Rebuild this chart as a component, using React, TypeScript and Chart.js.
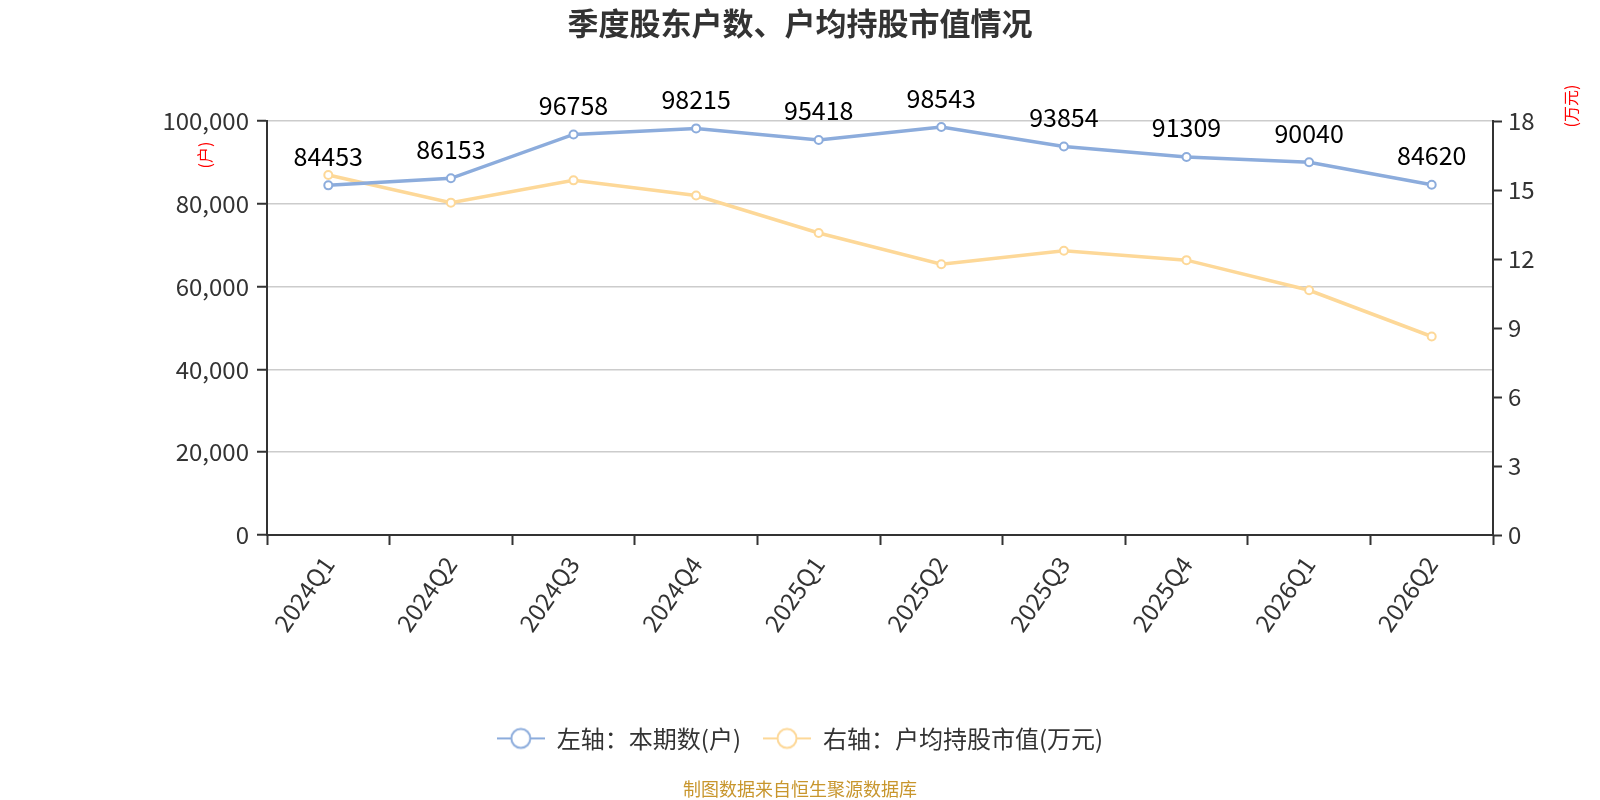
import { useEffect, useRef } from 'react';
import Chart from 'chart.js/auto';

const FONT = '"Noto Sans CJK SC", "Noto Sans", sans-serif';

// quarter labels and the two series
const quarters = [
  '2024Q1', '2024Q2', '2024Q3', '2024Q4',
  '2025Q1', '2025Q2', '2025Q3', '2025Q4',
  '2026Q1', '2026Q2',
];
const holderCounts = [84453, 86153, 96758, 98215, 95418, 98543, 93854, 91309, 90040, 84620];
const avgHoldingValue = [15.65, 14.45, 15.42, 14.76, 13.13, 11.77, 12.36, 11.95, 10.64, 8.63];

// axis ranges
const leftMax = 100000;
const leftStep = 20000;
const rightMax = 18;
const rightStep = 3;

const BLUE = '#8cacdc';
const YELLOW = '#fdd898';

function legendMarker(color: string) {
  const c = document.createElement('canvas');
  c.width = 48;
  c.height = 24;
  const g = c.getContext('2d');
  if (g) {
    g.strokeStyle = color;
    g.lineWidth = 2;
    g.beginPath();
    g.moveTo(0, 12);
    g.lineTo(48, 12);
    g.stroke();
    g.beginPath();
    g.arc(24, 12, 9.5, 0, Math.PI * 2);
    g.fillStyle = '#fff';
    g.fill();
    g.stroke();
  }
  return c;
}

// numbers above the blue line
const valueLabels = {
  id: 'valueLabels',
  afterDatasetsDraw(chart: Chart) {
    const { ctx } = chart;
    const meta = chart.getDatasetMeta(0);
    ctx.save();
    ctx.font = `25px ${FONT}`;
    ctx.fillStyle = '#000';
    ctx.textAlign = 'center';
    ctx.textBaseline = 'middle';
    meta.data.forEach((pt, i) => {
      ctx.fillText(String(holderCounts[i]), pt.x, pt.y - 29);
    });
    ctx.restore();
  },
};

// small red unit captions beside the axes
const unitLabels = {
  id: 'unitLabels',
  afterDraw(chart: Chart) {
    const { ctx, chartArea } = chart;
    const draw = (text: string, x: number, y: number) => {
      ctx.save();
      ctx.translate(x, y);
      ctx.rotate(-Math.PI / 2);
      ctx.font = `16px ${FONT}`;
      ctx.fillStyle = '#ff0000';
      ctx.textAlign = 'center';
      ctx.textBaseline = 'middle';
      ctx.fillText(text, 0, 0);
      ctx.restore();
    };
    draw('(户)', chartArea.left - 62, chartArea.top + 34);
    draw('(万元)', chartArea.right + 78, chartArea.top - 15);
  },
};

export default function App() {
  const chartRef = useRef<HTMLCanvasElement>(null);
  const chartInstance = useRef<Chart | null>(null);

  useEffect(() => {
    document.body.style.margin = '0';
    if (!chartRef.current) return;
    if (chartInstance.current) {
      chartInstance.current.destroy();
    }
    const ctx = chartRef.current.getContext('2d');
    if (!ctx) return;

    const markers = [legendMarker(BLUE), legendMarker(YELLOW)];

    chartInstance.current = new Chart(ctx, {
      type: 'line',
      data: {
        labels: quarters,
        datasets: [
          {
            label: '左轴：本期数(户)',
            data: holderCounts,
            yAxisID: 'y',
            borderColor: BLUE,
            borderWidth: 3.5,
            pointRadius: 4,
            pointBorderWidth: 2,
            pointBackgroundColor: '#fff',
            pointBorderColor: BLUE,
            tension: 0,
          },
          {
            label: '右轴：户均持股市值(万元)',
            data: avgHoldingValue,
            yAxisID: 'y1',
            borderColor: YELLOW,
            borderWidth: 3.5,
            pointRadius: 4,
            pointBorderWidth: 2,
            pointBackgroundColor: '#fff',
            pointBorderColor: YELLOW,
            tension: 0,
          },
        ],
      },
      options: {
        responsive: true,
        maintainAspectRatio: false,
        animation: false,
        layout: { padding: 0 },
        plugins: {
          title: {
            display: true,
            text: '季度股东户数、户均持股市值情况',
            color: '#333',
            font: { family: FONT, size: 31, weight: 'bold' },
            padding: { top: 5, bottom: 78.8 },
          },
          subtitle: {
            display: true,
            position: 'bottom',
            text: '制图数据来自恒生聚源数据库',
            color: '#c8962d',
            font: { family: FONT, size: 18 },
            padding: { top: 18, bottom: 0 },
          },
          legend: {
            position: 'bottom',
            labels: {
              usePointStyle: true,
              pointStyleWidth: 48,
              padding: 22,
              color: '#333',
              font: { family: FONT, size: 24 },
              generateLabels: (chart) =>
                Chart.defaults.plugins.legend.labels
                  .generateLabels(chart)
                  .map((item, i) => ({ ...item, pointStyle: markers[i] })),
            },
          },
          tooltip: { enabled: false },
        },
        scales: {
          x: {
            offset: true,
            grid: {
              display: true,
              offset: true,
              drawOnChartArea: false,
              tickLength: 10,
              tickColor: '#333',
              tickWidth: 2,
            },
            border: { color: '#333', width: 2 },
            ticks: {
              autoSkip: false,
              maxRotation: 55,
              minRotation: 55,
              padding: 6,
              color: '#333',
              font: { family: FONT, size: 24 },
            },
            afterFit: (scale) => {
              scale.height = 169.4;
            },
          },
          y: {
            position: 'left',
            min: 0,
            max: leftMax,
            grid: {
              color: '#cccccc',
              lineWidth: 1.5,
              tickLength: 10,
              tickColor: '#333',
              tickWidth: 2,
            },
            border: { color: '#333', width: 2 },
            ticks: {
              stepSize: leftStep,
              padding: 8,
              color: '#333',
              font: { family: FONT, size: 24 },
              callback: (value) => Number(value).toLocaleString('en-US'),
            },
            afterFit: (scale) => {
              scale.width = 267;
            },
          },
          y1: {
            position: 'right',
            min: 0,
            max: rightMax,
            grid: {
              drawOnChartArea: false,
              tickLength: 9,
              tickColor: '#333',
              tickWidth: 2,
            },
            border: { color: '#333', width: 2 },
            ticks: {
              stepSize: rightStep,
              padding: 6,
              color: '#333',
              font: { family: FONT, size: 24 },
            },
            afterFit: (scale) => {
              scale.width = 107;
            },
          },
        },
      },
      plugins: [valueLabels, unitLabels],
    });

    return () => {
      if (chartInstance.current) {
        chartInstance.current.destroy();
        chartInstance.current = null;
      }
    };
  }, []);

  return (
    <div style={{ width: 1600, height: 800, position: 'relative' }}>
      <canvas ref={chartRef}></canvas>
    </div>
  );
}
